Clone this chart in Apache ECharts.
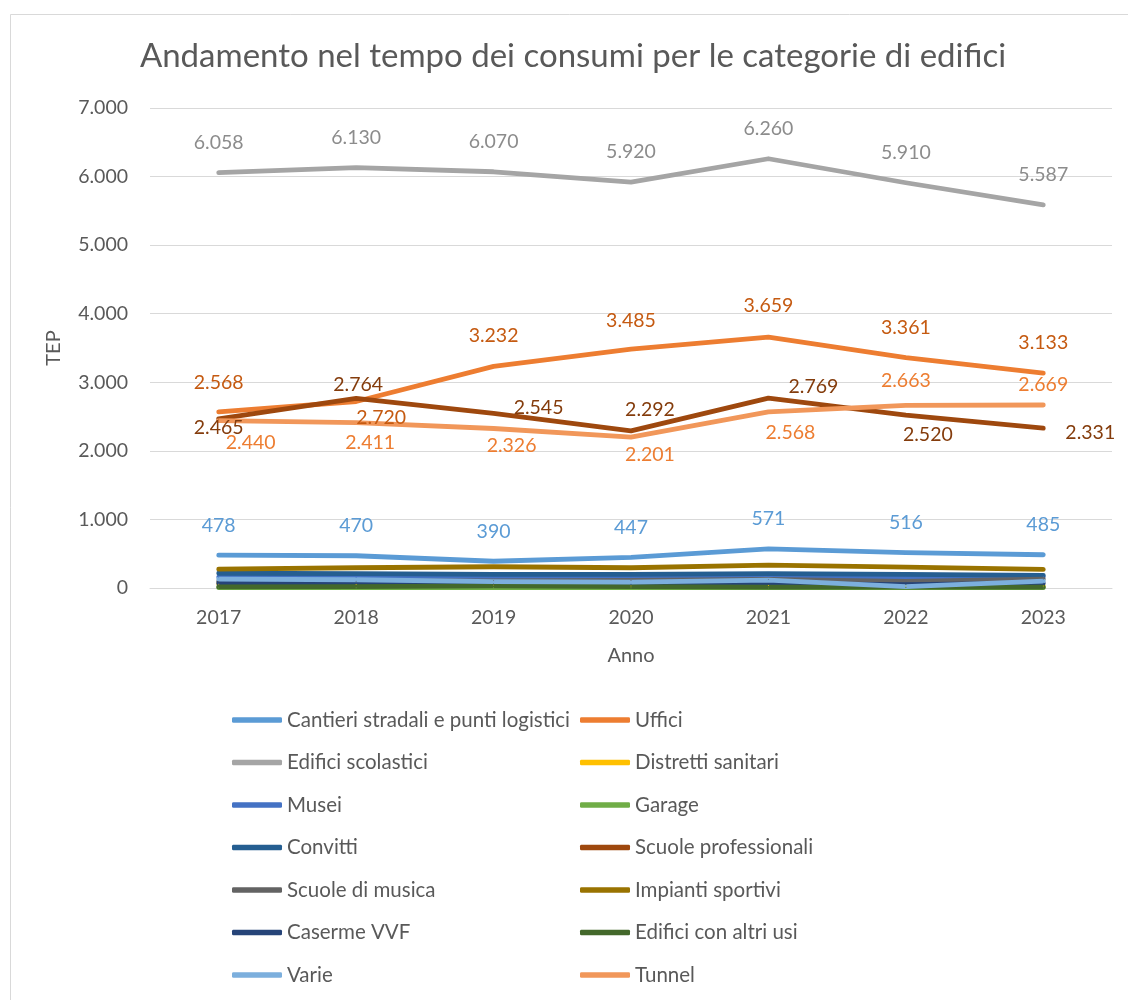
<!DOCTYPE html>
<html>
<head>
<meta charset="utf-8">
<script src="https://cdn.jsdelivr.net/npm/echarts@6/dist/echarts.min.js"></script>
<style>
  html, body { margin: 0; padding: 0; background: #ffffff; }
  #chart { width: 1128px; height: 1000px; }
</style>
</head>
<body>
<div id="chart"></div>
<script>
// Anni
const years = ['2017', '2018', '2019', '2020', '2021', '2022', '2023'];

// Consumi (TEP) per categoria di edificio
const cantieri = [478, 470, 390, 447, 571, 516, 485];
const uffici = [2568, 2720, 3232, 3485, 3659, 3361, 3133];
const edificiScolastici = [6058, 6130, 6070, 5920, 6260, 5910, 5587];
const distrettiSanitari = [60, 55, 45, 30, 35, 30, 30];
const musei = [160, 155, 150, 150, 160, 155, 165];
const garage = [5, 5, 5, 5, 5, 5, 5];
const convitti = [215, 210, 200, 200, 210, 200, 185];
const scuoleProfessionali = [2465, 2764, 2545, 2292, 2769, 2520, 2331];
const scuoleMusica = [95, 100, 105, 110, 125, 95, 130];
const impiantiSportivi = [275, 295, 310, 295, 335, 305, 272];
const caserme = [70, 70, 60, 55, 65, 50, 70];
const altriUsi = [15, 20, 30, 20, 12, 12, 12];
const varie = [130, 120, 93, 85, 115, 20, 100];
const tunnel = [2440, 2411, 2326, 2201, 2568, 2663, 2669];

// Tacche dell'asse dei valori
const yTicks = [0, 1000, 2000, 3000, 4000, 5000, 6000, 7000];

// Spostamento delle etichette rispetto al punto [dx, dy]
const aboveShift = [[0, -30], [0, -30], [0, -30], [0, -30], [0, -30], [0, -30], [0, -30]];
const ufficiShift = [[0, -29], [25, 16], [0, -31], [0, -28], [0, -31], [0, -30], [0, -30]];
const spShift = [[0, 9], [2, -14], [45, -6], [19, -21], [45, -11], [22, 20], [47, 5]];
const tunnelShift = [[32, 22], [14, 20], [18, 17], [19, 18], [22, 21], [0, -25], [0, -20]];

const FONT = 'Lato';
const TEXT = '#595959';

function fmt(v) {
  return String(v).replace(/\B(?=(\d{3})+(?!\d))/g, '.');
}

const seriesDefs = [
  { name: 'Cantieri stradali e punti logistici', data: cantieri, color: '#5B9BD5', label: '#5B9BD5', shift: aboveShift },
  { name: 'Uffici', data: uffici, color: '#ED7D31', label: '#C55A11', shift: ufficiShift },
  { name: 'Edifici scolastici', data: edificiScolastici, color: '#A5A5A5', label: '#8C8C8C', shift: aboveShift },
  { name: 'Distretti sanitari', data: distrettiSanitari, color: '#FFC000' },
  { name: 'Musei', data: musei, color: '#4472C4' },
  { name: 'Garage', data: garage, color: '#70AD47' },
  { name: 'Convitti', data: convitti, color: '#255E91' },
  { name: 'Scuole professionali', data: scuoleProfessionali, color: '#9E480E', label: '#843C0C', shift: spShift },
  { name: 'Scuole di musica', data: scuoleMusica, color: '#636363' },
  { name: 'Impianti sportivi', data: impiantiSportivi, color: '#997300' },
  { name: 'Caserme VVF', data: caserme, color: '#264478' },
  { name: 'Edifici con altri usi', data: altriUsi, color: '#43682B' },
  { name: 'Varie', data: varie, color: '#7CAFDD' },
  { name: 'Tunnel', data: tunnel, color: '#F1975A', label: '#ED7D31', shift: tunnelShift }
];

const series = seriesDefs.map(function (s) {
  const data = s.data.map(function (v, i) {
    if (!s.label) return v;
    return {
      value: v,
      label: {
        show: true,
        position: 'inside',
        offset: s.shift[i],
        color: s.label,
        fontFamily: FONT,
        fontSize: 19.5,
        formatter: function (p) { return fmt(p.value); }
      }
    };
  });
  return {
    name: s.name,
    type: 'line',
    data: data,
    color: s.color,
    symbol: 'circle',
    symbolSize: 1,
    showSymbol: true,
    itemStyle: { color: s.color },
    lineStyle: { color: s.color, width: 4.8, cap: 'round', join: 'round' },
    emphasis: { disabled: true },
    silent: true
  };
});

const legendCommon = {
  orient: 'vertical',
  top: 709,
  padding: 0,
  itemWidth: 50,
  itemHeight: 5.5,
  itemGap: 20.5,
  icon: 'roundRect',
  selectedMode: false,
  textStyle: { color: TEXT, fontFamily: FONT, fontSize: 20.5, lineHeight: 22 }
};

const option = {
  animation: false,
  backgroundColor: '#ffffff',
  title: {
    text: 'Andamento nel tempo dei consumi per le categorie di edifici',
    left: 573,
    textAlign: 'center',
    top: 40,
    padding: 0,
    textStyle: { color: TEXT, fontFamily: FONT, fontSize: 33, fontWeight: 'normal' }
  },
  graphic: [{
    type: 'rect',
    left: 8,
    top: 12,
    shape: { width: 1140, height: 1010 },
    style: { fill: 'none', stroke: '#D9D9D9', lineWidth: 1 },
    silent: true
  }],
  legend: [
    Object.assign({}, legendCommon, {
      left: 232,
      data: seriesDefs.filter(function (s, i) { return i % 2 === 0; }).map(function (s) { return s.name; })
    }),
    Object.assign({}, legendCommon, {
      left: 580,
      data: seriesDefs.filter(function (s, i) { return i % 2 === 1; }).map(function (s) { return s.name; })
    })
  ],
  grid: { left: 150, right: 16, top: 108, bottom: 412, containLabel: false },
  xAxis: {
    type: 'category',
    data: years,
    boundaryGap: true,
    name: 'Anno',
    nameLocation: 'middle',
    nameGap: 58,
    nameTextStyle: { color: TEXT, fontFamily: FONT, fontSize: 20 },
    axisLine: { lineStyle: { color: '#D9D9D9', width: 1 } },
    axisTick: { show: false },
    axisLabel: { color: TEXT, fontFamily: FONT, fontSize: 19.5, margin: 20 }
  },
  yAxis: {
    type: 'value',
    min: yTicks[0],
    max: yTicks[yTicks.length - 1],
    interval: yTicks[1] - yTicks[0],
    name: 'TEP',
    nameLocation: 'middle',
    nameGap: 86,
    nameRotate: 90,
    nameTextStyle: { color: TEXT, fontFamily: FONT, fontSize: 20 },
    axisLine: { show: false },
    axisTick: { show: false },
    splitLine: { lineStyle: { color: '#D9D9D9', width: 1 } },
    axisLabel: { color: TEXT, fontFamily: FONT, fontSize: 19.5, margin: 22, formatter: fmt }
  },
  series: series
};

const chart = echarts.init(document.getElementById('chart'), null, { renderer: 'canvas' });
chart.setOption(option);
</script>
</body>
</html>
